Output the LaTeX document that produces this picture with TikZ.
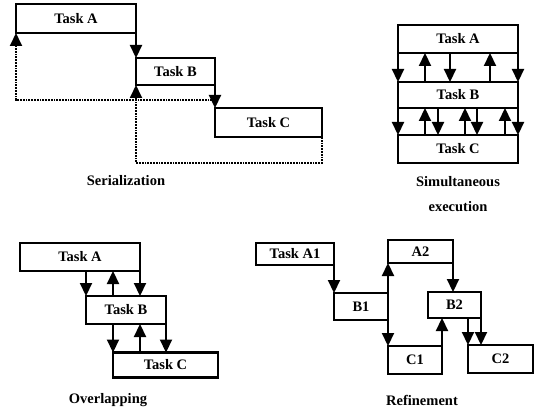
\documentclass[tikz,border=0pt]{standalone}
\usepackage{fontspec}
\setmainfont{Liberation Serif}
\usetikzlibrary{arrows.meta}
\begin{document}
\begin{tikzpicture}[x=1pt,y=-1pt,
  font=\bfseries\fontsize{14.5}{16}\selectfont,
  task/.style={draw,line width=2.2pt,outer sep=0pt,inner sep=1pt},
  flow/.style={line width=2.2pt,-{Triangle[width=12pt,length=13pt]}},
  back/.style={line width=1.8pt,densely dotted,-{Triangle[width=12pt,length=13pt]}},
  lbl/.style={inner sep=0pt}]
\useasboundingbox (0,0) rectangle (536,409);
% serialization
\node[task,minimum width=120,minimum height=29] (sA) at (76,18.5) {Task A};
\node[task,minimum width=79,minimum height=27] (sB) at (175.5,71.5) {Task B};
\node[task,minimum width=107,minimum height=29] (sC) at (268.5,122.5) {Task C};
\draw[flow] (sA.south east) -- (sB.north west);
\draw[flow] (sB.south east) -- (sC.north west);
\draw[back] ([yshift=-15pt]sB.south east) -| (sA.south west);
\draw[back] (sC.south east) -- ++(0,26) -| (sB.south west);
\node[lbl] (ser) at (126,181) {Serialization};
% simultaneous execution
\node[task,minimum width=120,minimum height=28] (mA) at (458,39) {Task A};
\node[task,minimum width=120,minimum height=26] (mB) at (458,95) {Task B};
\node[task,minimum width=120,minimum height=28] (mC) at (458,149) {Task C};
\foreach \dx in {0,52,120}
  \draw[flow] ([xshift=\dx pt]mA.south west) -- ([xshift=\dx pt]mB.north west);
\foreach \dx in {27,92}
  \draw[flow] ([xshift=\dx pt]mB.north west) -- ([xshift=\dx pt]mA.south west);
\foreach \dx in {0,40,79,120}
  \draw[flow] ([xshift=\dx pt]mB.south west) -- ([xshift=\dx pt]mC.north west);
\foreach \dx in {27,67,107}
  \draw[flow] ([xshift=\dx pt]mC.north west) -- ([xshift=\dx pt]mB.south west);
\node[lbl] (sim) at (458,182) {Simultaneous};
\node[lbl] (exe) at (458,207) {execution};
% overlapping
\node[task,minimum width=120,minimum height=28] (oA) at (80,257) {Task A};
\node[task,minimum width=80,minimum height=28] (oB) at (126,310) {Task B};
\node[task,minimum width=105,minimum height=25] (oC) at (165.5,365) {Task C};
\draw[flow] (oA.south west -| oB.west) -- (oB.north west);
\draw[flow] (oB.north west -| oC.west) -- (oA.south west -| oC.west);
\draw[flow] (oA.south east) -- (oA.south east |- oB.north);
\draw[flow] (oB.south west -| oC.west) -- (oC.north west);
\draw[flow] (oC.north west -| oA.east) -- (oA.east |- oB.south);
\draw[flow] (oB.south east) -- (oB.south east |- oC.north);
\node[lbl] (ovl) at (108,400) {Overlapping};
% refinement
\node[task,minimum width=78,minimum height=22] (A1) at (295,254) {Task A1};
\node[task,minimum width=65,minimum height=23] (A2) at (420.5,251.5) {A2};
\node[task,minimum width=54,minimum height=27] (B1) at (361,306.5) {B1};
\node[task,minimum width=53,minimum height=26] (B2) at (454.5,305) {B2};
\node[task,minimum width=54,minimum height=28] (C1) at (415,360) {C1};
\node[task,minimum width=65,minimum height=28] (C2) at (500.5,359) {C2};
\draw[flow] (A1.south east) -- (B1.north west);
\draw[flow] (B1.north east) -- (A2.south west);
\draw[flow] (B1.south east) -- (C1.north west);
\draw[flow] (A2.south east) -- (A2.south east |- B2.north);
\draw[flow] (C1.north east) -- (C1.north east |- B2.south);
\draw[flow] (B2.south west -| C2.west) -- (C2.north west);
\draw[flow] (B2.south east) -- (B2.south east |- C2.north);
\node[lbl] (ref) at (422,400) {Refinement};
\end{tikzpicture}
\end{document}
